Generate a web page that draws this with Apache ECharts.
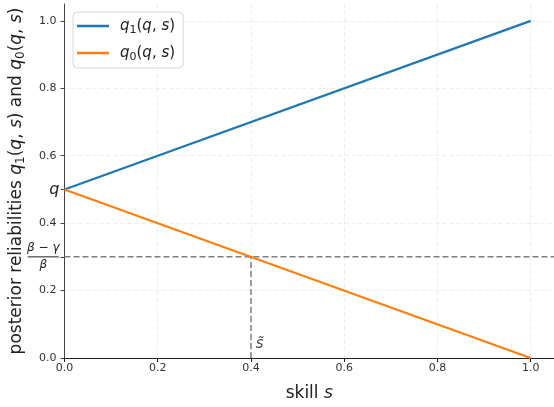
<!DOCTYPE html>
<html><head><meta charset="utf-8">
<script src="https://cdn.jsdelivr.net/npm/echarts@6/dist/echarts.min.js"></script>
<style>html,body{margin:0;padding:0;background:#fff;overflow:hidden}#c{width:554px;height:407px}</style>
</head><body><div id="c"></div>
<script>
// Data
const skill = [0, 1];
const q1Values = [0.5, 1.0];
const q0Values = [0.5, 0.0];
const seriesNames = ['q1', 'q0'];
const thresholdY = 0.3;      // (β-γ)/β
const sTilde = 0.4;
const xTicks = [0, 0.2, 0.4, 0.6, 0.8, 1.0];
const xTickLabels = ['0.0', '0.2', '0.4', '0.6', '0.8', '1.0'];
const yTicks = [0, 0.2, 0.4, 0.6, 0.8, 1.0];
const yTickLabels = ['0.0', '0.2', '0.4', '0.6', '0.8', '1.0'];
const ySpecialTicks = [0.3, 0.5];
const ySpecialLabels = ['{num|β − γ}\n{bar| }\n{den|β}', '{q|q}'];
const axisMax = 1.05;

const FONT = 'DejaVu Sans';
const chart = echarts.init(document.getElementById('c'), null, {renderer: 'canvas'});
const gridLine = {show: true, lineStyle: {color: '#e8e8e8', type: [4, 3], width: 0.8}};
const lbl = (arr, vals) => v => { const i = vals.findIndex(t => Math.abs(t - v) < 1e-9); return i >= 0 ? arr[i] : ''; };
const mathRich = (fs) => ({
  n: {fontFamily: FONT, fontSize: fs, color: '#222'},
  i: {fontFamily: FONT, fontSize: fs, fontStyle: 'italic', color: '#222'},
  sub: {fontFamily: FONT, fontSize: Math.round(fs * 0.7), color: '#222', verticalAlign: 'bottom', padding: [Math.round(fs * 0.45), 0, 0, 0]}
});

chart.setOption({
  animation: false,
  grid: {left: 64.5, right: -2, top: 4, bottom: 43.7},
  legend: {
    orient: 'vertical', left: 73, top: 12,
    padding: [4, 8, 5, 4], itemGap: 7,
    itemWidth: 32, itemHeight: 2.5, icon: 'rect',
    borderColor: '#d6d6d6', borderWidth: 1, borderRadius: 4,
    backgroundColor: 'rgba(255,255,255,0.8)',
    data: seriesNames,
    formatter: n => n === 'q1'
      ? '{i|q}{sub|1}{n|(}{i|q}{n|,}{i| s}{n|)}'
      : '{i|q}{sub|0}{n|(}{i|q}{n|,}{i| s}{n|)}',
    textStyle: {
      fontFamily: FONT, fontSize: 15, color: '#222', padding: [0, 0, 0, 6], lineHeight: 20,
      rich: mathRich(15)
    }
  },
  xAxis: {
    type: 'value', min: 0, max: axisMax, interval: 0.2,
    name: '{n|skill }{i|s}', nameLocation: 'middle', nameGap: 27,
    nameTextStyle: {rich: mathRich(17)},
    axisLine: {onZero: false, lineStyle: {color: '#222', width: 1}},
    axisTick: {show: true, length: 4, lineStyle: {color: '#222'}, customValues: xTicks},
    axisLabel: {fontFamily: FONT, fontSize: 11, color: '#333', margin: 5, customValues: xTicks, formatter: lbl(xTickLabels, xTicks)},
    splitLine: gridLine
  },
  yAxis: [{
    type: 'value', min: 0, max: axisMax, interval: 0.2,
    name: '{n|posterior reliabilities }{i|q}{sub|1}{n|(}{i|q}{n|,}{i| s}{n|) and }{i|q}{sub|0}{n|(}{i|q}{n|,}{i| s}{n|)}',
    nameLocation: 'middle', nameRotate: 90, nameGap: 38,
    nameTextStyle: {rich: mathRich(17)},
    axisLine: {show: true, lineStyle: {color: '#444', width: 1}},
    axisTick: {show: true, length: 4, lineStyle: {color: '#444'}, customValues: yTicks},
    axisLabel: {fontFamily: FONT, fontSize: 11, color: '#333', margin: 8, customValues: yTicks, formatter: lbl(yTickLabels, yTicks)},
    splitLine: gridLine
  }, {
    type: 'value', min: 0, max: axisMax, interval: 0.2, position: 'left', offset: 0,
    axisLine: {show: false},
    axisTick: {show: true, length: 4, lineStyle: {color: '#444'}, customValues: ySpecialTicks},
    axisLabel: {
      margin: 5, customValues: ySpecialTicks, formatter: lbl(ySpecialLabels, ySpecialTicks),
      rich: {
        num: {fontFamily: FONT, fontSize: 12, fontStyle: 'italic', color: '#222', align: 'center', lineHeight: 13},
        bar: {width: 31, height: 1, lineHeight: 4, backgroundColor: '#222', align: 'center', fontSize: 1},
        den: {fontFamily: FONT, fontSize: 12, fontStyle: 'italic', color: '#222', align: 'center', lineHeight: 13},
        q: {fontFamily: FONT, fontSize: 16, fontStyle: 'italic', color: '#222'}
      }
    },
    splitLine: {show: false}
  }],
  series: [
    {name: 'q1', type: 'line', data: skill.map((s, i) => [s, q1Values[i]]), showSymbol: false, lineStyle: {color: '#1f77b4', width: 2.2}, itemStyle: {color: '#1f77b4'}, z: 5},
    {name: 'q0', type: 'line', data: skill.map((s, i) => [s, q0Values[i]]), showSymbol: false, lineStyle: {color: '#ff7f0e', width: 2.2}, itemStyle: {color: '#ff7f0e'}, z: 5},
    {name: 'thr', type: 'line', data: [[0, thresholdY], [axisMax, thresholdY]], showSymbol: false, lineStyle: {color: '#808080', width: 1.5, type: [6, 3]}, z: 3},
    {name: 'stilde', type: 'line', data: [[sTilde, 0], [sTilde, thresholdY]], showSymbol: false, lineStyle: {color: '#808080', width: 1.5, type: [6, 3]}, z: 3},
    {name: 'stildeLabel', type: 'scatter', data: [[sTilde + 0.01, 0.03]], symbolSize: 0,
      label: {show: true, position: [0, 0], offset: [0, 4], formatter: 's\u0303', fontFamily: FONT, fontSize: 15, fontStyle: 'italic', color: '#222', align: 'left', verticalAlign: 'bottom'},
      silent: true}
  ]
});
</script></body></html>
